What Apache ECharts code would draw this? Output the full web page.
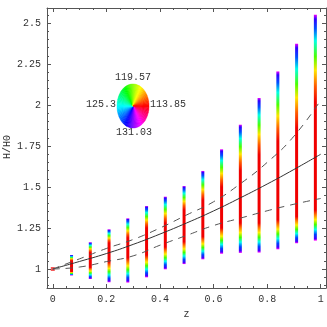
<!DOCTYPE html>
<html>
<head>
<meta charset="utf-8">
<script src="https://cdn.jsdelivr.net/npm/echarts@6/dist/echarts.min.js"></script>
<style>
  html, body { margin: 0; padding: 0; background: #fff; }
  #chart { width: 327px; height: 327px; }
</style>
</head>
<body>
<div id="chart"></div>
<script>
// redshift of each coloured column
const barZ = [0.07, 0.14, 0.21, 0.28, 0.35, 0.42, 0.49, 0.56, 0.63, 0.70, 0.77, 0.84, 0.91, 0.98]
// column ends and the red core, in H/H0
const barLow = [0.96, 0.939, 0.919, 0.917, 0.949, 0.998, 1.03, 1.059, 1.093, 1.098, 1.10, 1.12, 1.157, 1.173]
const redLow = [0.985, 1.01, 1.043, 1.067, 1.085, 1.134, 1.166, 1.197, 1.25, 1.28, 1.28, 1.30, 1.32, 1.36]
const redHigh = [1.05, 1.10, 1.159, 1.19, 1.25, 1.28, 1.36, 1.42, 1.50, 1.60, 1.697, 1.78, 1.86, 2.02]
const barHigh = [1.085, 1.163, 1.242, 1.309, 1.384, 1.441, 1.506, 1.598, 1.73, 1.88, 2.043, 2.205, 2.374, 2.551]

// curves
const lineZ = [0, 0.1, 0.2, 0.3, 0.4, 0.5, 0.6, 0.7, 0.8, 0.9, 1.0]
const hMid = [1.0, 1.046, 1.094, 1.150, 1.213, 1.281, 1.354, 1.434, 1.518, 1.607, 1.700]
const hUp = [1.0, 1.062, 1.125, 1.18, 1.25, 1.33, 1.41, 1.52, 1.65, 1.81, 2.03]
const hLow = [1.0, 1.012, 1.045, 1.08, 1.145, 1.205, 1.265, 1.31, 1.355, 1.395, 1.43]

// ticks
const xTicks = [0, 0.2, 0.4, 0.6, 0.8, 1]
const yTicks = [1, 1.25, 1.5, 1.75, 2, 2.25, 2.5]
const wheelLabels = ['119.57', '125.3', '113.85', '131.03'] // top, left, right, bottom

const xMinor = []
for (let i = 0; i <= 20; i++) xMinor.push(+(i * 0.05).toFixed(2))
const yMinor = []
for (let i = 18; i <= 51; i++) yMinor.push(+(i * 0.05).toFixed(2))

const font = '"Liberation Mono", "DejaVu Sans Mono", monospace'
const frameColor = '#555'
const textColor = '#333'

const upStops = [[0, '#f00000'], [0.18, '#ff5a00'], [0.36, '#ffe600'], [0.52, '#4cff00'], [0.7, '#00ffe6'], [0.84, '#0050ff'], [0.95, '#3000ff'], [1, '#ee00ff']]
const lowStops = [[0, '#f00000'], [0.15, '#ff7000'], [0.32, '#ffee00'], [0.48, '#40ff00'], [0.64, '#00ffee'], [0.8, '#0040ff'], [0.93, '#4400ff'], [1, '#ff00ff']]

const chart = echarts.init(document.getElementById('chart'))

const xRange = { min: -0.0216, max: 1.0197 }
const yRange = { min: 0.884, max: 2.592 }

function frameAxis (pos, major, minor, showLabels, extra) {
  const horiz = pos === 'bottom' || pos === 'top'
  return Object.assign({
    type: 'value',
    position: pos,
    splitLine: { show: false },
    axisLine: { show: major, onZero: false, lineStyle: { color: frameColor, width: 1 } },
    axisTick: {
      show: true,
      inside: true,
      length: major ? 4 : 2,
      customValues: major ? (horiz ? xTicks : yTicks) : minor,
      lineStyle: { color: frameColor }
    },
    axisLabel: {
      show: showLabels,
      customValues: horiz ? xTicks : yTicks,
      fontFamily: font,
      fontSize: 10,
      color: textColor,
      margin: 6
    }
  }, extra)
}

const nameStyle = { fontFamily: font, fontSize: 10, color: textColor }
const xAxes = [
  frameAxis('bottom', true, null, true, Object.assign({ name: 'z', nameLocation: 'middle', nameGap: 21, nameTextStyle: nameStyle }, xRange)),
  frameAxis('bottom', false, xMinor, false, xRange),
  frameAxis('top', true, null, false, xRange),
  frameAxis('top', false, xMinor, false, xRange)
]
const yAxes = [
  frameAxis('left', true, null, true, yRange),
  frameAxis('left', false, yMinor, false, yRange),
  frameAxis('right', true, null, false, yRange),
  frameAxis('right', false, yMinor, false, yRange)
]

const barData = barZ.map((z, i) => [z, barLow[i], redLow[i], redHigh[i], barHigh[i]])

function renderBar (params, api) {
  const z = api.value(0)
  const pTop = api.coord([z, api.value(4)])
  const yRedTop = api.coord([z, api.value(3)])[1]
  const yRedBot = api.coord([z, api.value(2)])[1]
  const yBot = api.coord([z, api.value(1)])[1]
  const h = yBot - pTop[1]
  const a = (yRedTop - pTop[1]) / h
  const b = (yRedBot - pTop[1]) / h
  const stops = []
  for (let i = upStops.length - 1; i >= 0; i--) {
    stops.push({ offset: a * (1 - upStops[i][0]), color: upStops[i][1] })
  }
  lowStops.forEach(s => stops.push({ offset: b + (1 - b) * s[0], color: s[1] }))
  return {
    type: 'rect',
    shape: { x: pTop[0] - 1.5, y: pTop[1], width: 3, height: h },
    style: { fill: new echarts.graphic.LinearGradient(0, 0, 0, 1, stops) }
  }
}

// colour wheel inset
const wheel = []
const nSlices = 90
for (let i = 0; i < nSlices; i++) {
  const a0 = i * 360 / nSlices
  const hue = (360 - a0 - 360 / nSlices / 2 + 360) % 360
  const col = 'hsl(' + hue + ',100%,50%)'
  wheel.push({
    type: 'sector',
    shape: { cx: 0, cy: 0, r0: 0, r: 16, startAngle: a0 * Math.PI / 180, endAngle: (a0 + 360 / nSlices + 0.8) * Math.PI / 180 },
    style: { fill: col, stroke: col, lineWidth: 0.3 }
  })
}

const labelStyle = { fill: textColor, font: '10px ' + font, verticalAlign: 'middle' }

const option = {
  animation: false,
  backgroundColor: '#fff',
  grid: { left: 47, top: 8, width: 279, height: 280, containLabel: false, outerBoundsMode: 'none' },
  xAxis: xAxes,
  yAxis: yAxes,
  series: [
    {
      type: 'custom',
      renderItem: renderBar,
      xAxisIndex: 0,
      yAxisIndex: 0,
      encode: { x: 0, y: [1, 2, 3, 4] },
      data: barData,
      z: 2
    },
    {
      type: 'scatter',
      data: [[0, 1]],
      symbol: 'rect',
      symbolSize: 4,
      itemStyle: { color: '#f03030' },
      z: 2
    },
    {
      type: 'line',
      data: lineZ.map((z, i) => [z, hMid[i]]),
      smooth: true,
      symbol: 'none',
      lineStyle: { color: '#333', width: 1 },
      z: 3
    },
    {
      type: 'line',
      data: lineZ.map((z, i) => [z, hUp[i]]),
      smooth: true,
      symbol: 'none',
      lineStyle: { color: '#555', width: 1, type: [7, 6] },
      z: 3
    },
    {
      type: 'line',
      data: lineZ.map((z, i) => [z, hLow[i]]),
      smooth: true,
      symbol: 'none',
      lineStyle: { color: '#555', width: 1, type: [7, 6] },
      z: 3
    }
  ],
  graphic: [
    {
      type: 'text',
      x: 7,
      y: 147,
      rotation: Math.PI / 2,
      style: { text: 'H/H0', fill: textColor, font: '10px ' + font, align: 'center', verticalAlign: 'middle' }
    },
    {
      type: 'group',
      x: 133,
      y: 106,
      scaleY: 22 / 16,
      children: wheel
    },
    { type: 'text', x: 133, y: 77, style: Object.assign({ text: wheelLabels[0], align: 'center' }, labelStyle) },
    { type: 'text', x: 116, y: 104, style: Object.assign({ text: wheelLabels[1], align: 'right' }, labelStyle) },
    { type: 'text', x: 150, y: 104, style: Object.assign({ text: wheelLabels[2], align: 'left' }, labelStyle) },
    { type: 'text', x: 134, y: 132, style: Object.assign({ text: wheelLabels[3], align: 'center' }, labelStyle) }
  ]
}

chart.setOption(option)
</script>
</body>
</html>
